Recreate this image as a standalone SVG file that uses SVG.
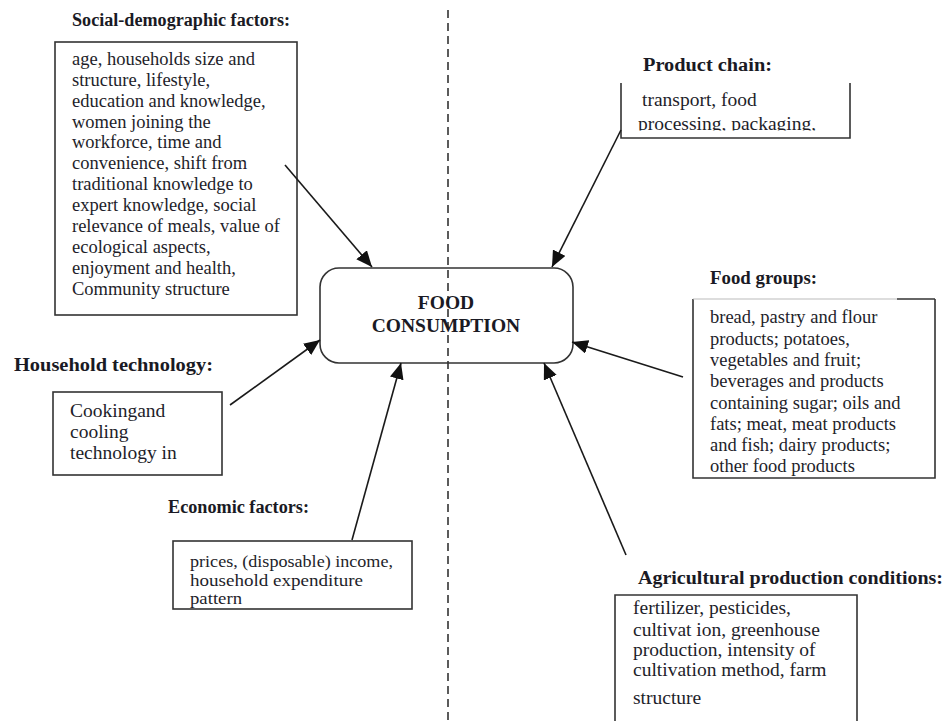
<svg xmlns="http://www.w3.org/2000/svg" width="949" height="721" viewBox="0 0 949 721">
  <style>
    .title { font-family: "Liberation Serif", "Times New Roman", serif; font-weight: bold; font-size: 18px; fill: #1a1a24; }
    .body { font-family: "Liberation Serif", "Times New Roman", serif; font-size: 18.5px; fill: #1e1e2a; }
    .large { font-size: 19.5px; }
    .small { font-size: 16.5px; }
    .box { fill: #ffffff; stroke: #333333; stroke-width: 1.6; }
    .edge { fill: none; stroke: #333333; stroke-width: 1.6; }
    .conn { fill: none; stroke: #1a1a1a; stroke-width: 1.6; marker-end: url(#arrow); }
    .center { font-family: "Liberation Serif", "Times New Roman", serif; font-weight: bold; font-size: 19.5px; fill: #1a1a24; text-anchor: middle; }
  </style>
  <defs>
    <marker id="arrow" markerUnits="userSpaceOnUse" markerWidth="18" markerHeight="14" refX="16" refY="7" orient="auto">
      <path d="M0,0 L16,7 L0,14 Z" fill="#111111"/>
    </marker>
    <clipPath id="chainClip">
      <rect x="621" y="83" width="229" height="47.5"/>
    </clipPath>
  </defs>

  <rect width="949" height="721" fill="#ffffff"/>

  <!-- dividing dashed line -->
  <line x1="448" y1="10" x2="448" y2="721" stroke="#333333" stroke-width="1.6" stroke-dasharray="8,5"/>

  <!-- central node -->
  <g id="food-consumption">
    <rect x="320" y="268" width="253" height="95" rx="19" ry="19" fill="none" stroke="#333333" stroke-width="1.6"/>
    <text class="center" x="446" y="309">FOOD</text>
    <text class="center" x="446" y="332">CONSUMPTION</text>
  </g>

  <!-- social-demographic factors -->
  <g id="social-demographic">
    <text class="title" x="72" y="26" textLength="218" lengthAdjust="spacingAndGlyphs">Social-demographic factors:</text>
    <rect class="box" x="55" y="42" width="242" height="273"/>
    <text class="body">
      <tspan x="72" y="65">age, households size and</tspan>
      <tspan x="72" y="86">structure, lifestyle,</tspan>
      <tspan x="72" y="107">education and knowledge,</tspan>
      <tspan x="72" y="128">women joining the</tspan>
      <tspan x="72" y="148">workforce, time and</tspan>
      <tspan x="72" y="169">convenience, shift from</tspan>
      <tspan x="72" y="190">traditional knowledge to</tspan>
      <tspan x="72" y="211">expert knowledge, social</tspan>
      <tspan x="72" y="232">relevance of meals, value of</tspan>
      <tspan x="72" y="253">ecological aspects,</tspan>
      <tspan x="72" y="274">enjoyment and health,</tspan>
      <tspan x="72" y="295">Community structure</tspan>
    </text>
  </g>

  <!-- product chain -->
  <g id="product-chain">
    <text class="title" x="643" y="71" textLength="129" lengthAdjust="spacingAndGlyphs">Product chain:</text>
    <path class="edge" d="M621,83 V138 H850 V83"/>
    <g clip-path="url(#chainClip)">
      <text class="body large">
        <tspan x="642" y="106">transport, food</tspan>
        <tspan x="638" y="130">processing, packaging,</tspan>
      </text>
    </g>
  </g>

  <!-- food groups -->
  <g id="food-groups">
    <text class="title" x="710" y="284" textLength="107" lengthAdjust="spacingAndGlyphs">Food groups:</text>
    <rect x="693" y="299" width="242" height="179" fill="#ffffff" stroke="none"/>
    <path class="edge" d="M693,299 V478 H935 V299"/>
    <line x1="693" y1="299" x2="897" y2="299" stroke="#bbbbbb" stroke-width="1.2"/>
    <line x1="897" y1="299" x2="935" y2="299" stroke="#333333" stroke-width="1.6"/>
    <text class="body">
      <tspan x="710" y="323">bread, pastry and flour</tspan>
      <tspan x="710" y="345">products; potatoes,</tspan>
      <tspan x="710" y="366">vegetables and fruit;</tspan>
      <tspan x="710" y="387">beverages and products</tspan>
      <tspan x="710" y="409">containing sugar; oils and</tspan>
      <tspan x="710" y="430">fats; meat, meat products</tspan>
      <tspan x="710" y="451">and fish; dairy products;</tspan>
      <tspan x="710" y="472">other food products</tspan>
    </text>
  </g>

  <!-- household technology -->
  <g id="household-technology">
    <text class="title" x="14" y="371" textLength="199" lengthAdjust="spacingAndGlyphs">Household technology:</text>
    <rect class="box" x="53" y="392" width="169" height="83"/>
    <text class="body large">
      <tspan x="70" y="417">Cookingand</tspan>
      <tspan x="70" y="438">cooling</tspan>
      <tspan x="70" y="459">technology in</tspan>
    </text>
  </g>

  <!-- economic factors -->
  <g id="economic-factors">
    <text class="title" x="168" y="513" textLength="141" lengthAdjust="spacingAndGlyphs">Economic factors:</text>
    <rect class="box" x="173" y="541" width="239" height="68"/>
    <text class="body small">
      <tspan x="190" y="567" textLength="203" lengthAdjust="spacingAndGlyphs">prices, (disposable) income,</tspan>
      <tspan x="190" y="585.5" textLength="173" lengthAdjust="spacingAndGlyphs">household expenditure</tspan>
      <tspan x="190" y="604" textLength="52" lengthAdjust="spacingAndGlyphs">pattern</tspan>
    </text>
  </g>

  <!-- agricultural production conditions -->
  <g id="agricultural-production">
    <text class="title" x="638" y="584" textLength="305" lengthAdjust="spacingAndGlyphs">Agricultural production conditions:</text>
    <path class="edge" d="M615,725 V595 H857 V725"/>
    <text class="body large">
      <tspan x="633" y="614">fertilizer, pesticides,</tspan>
      <tspan x="633" y="636">cultivat ion, greenhouse</tspan>
      <tspan x="633" y="656">production, intensity of</tspan>
      <tspan x="633" y="676">cultivation method, farm</tspan>
      <tspan x="633" y="704">structure</tspan>
    </text>
  </g>

  <!-- connectors -->
  <g id="connectors">
    <line class="conn" x1="285" y1="165" x2="372" y2="267"/>
    <line class="conn" x1="621" y1="130" x2="552" y2="267"/>
    <line class="conn" x1="683" y1="377" x2="572" y2="342"/>
    <line class="conn" x1="230" y1="405" x2="320" y2="340"/>
    <line class="conn" x1="352" y1="540" x2="401" y2="363"/>
    <line class="conn" x1="626" y1="555" x2="544" y2="363"/>
  </g>
</svg>
